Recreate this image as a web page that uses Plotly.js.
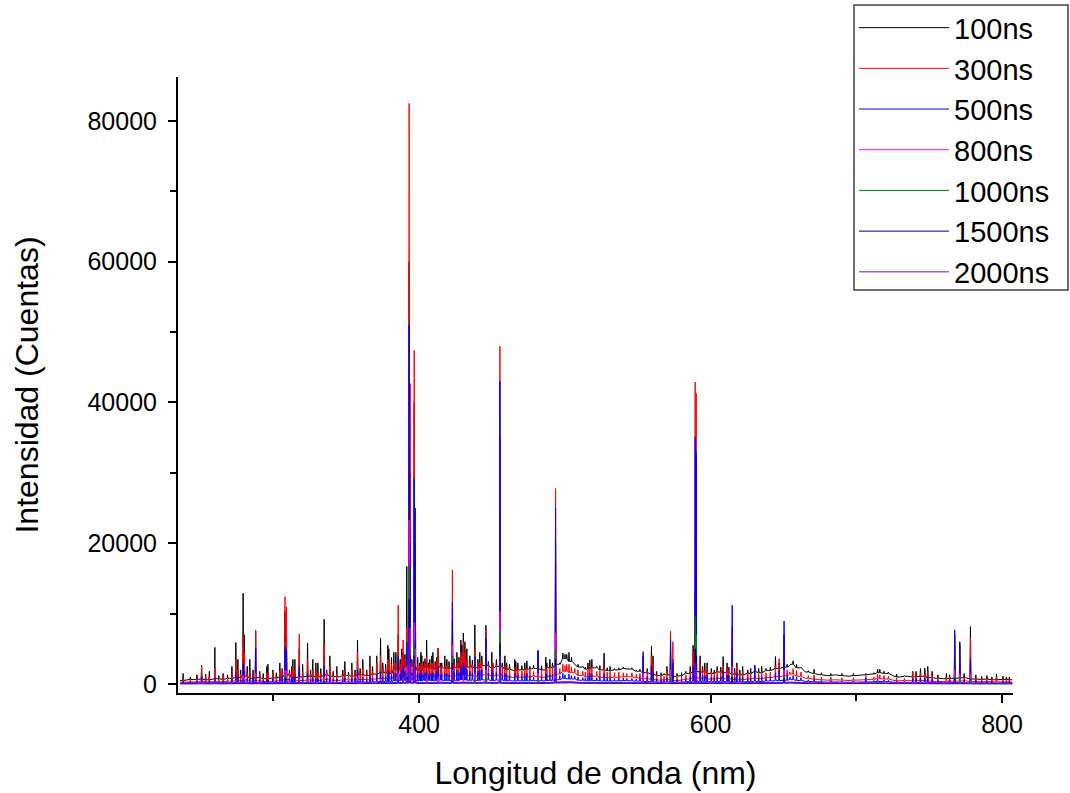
<!DOCTYPE html>
<html>
<head>
<meta charset="utf-8">
<script src="https://cdn.plot.ly/plotly-3.0.1.min.js"></script>
<style>
  html, body { margin: 0; padding: 0; background: #ffffff; }
  #chart { width: 1070px; height: 793px; }
</style>
</head>
<body>
<div id="chart"></div>
<script>
// ---- Series names and colours ----
const seriesNames = ["100ns", "300ns", "500ns", "800ns", "1000ns", "1500ns", "2000ns"];
const seriesColors = ["#000000", "#ff0000", "#0000ff", "#ff00ff", "#008000", "#000080", "#8000ff"];

// ---- Continuum (background) wavelength grid, nm ----
const contNm = [236,245,250,255,260,265,270,275,280,285,
  290,295,300,305,310,315,320,325,330,335,
  340,345,350,355,360,365,370,375,380,385,
  390,395,400,405,410,415,420,425,430,435,
  440,445,450,455,460,465,470,475,480,485,
  490,495,500,505,510,515,520,525,530,535,
  540,545,550,555,560,565,570,575,580,585,
  590,595,600,605,610,615,620,625,630,635,
  640,645,650,655,660,665,670,675,680,685,
  690,695,700,705,710,715,720,725,730,735,
  740,745,750,755,760,765,770,775,780,785,
  790,795,800,807];

// ---- Continuum intensity per series (counts) ----
const cont100 = [500,650,700,600,750,650,800,900,1100,800,
  900,750,850,1000,1300,900,1000,1100,1000,1300,
  1100,1000,1200,1100,1300,1200,1400,1600,1500,2000,
  2300,2500,1900,2300,2100,2400,2200,2300,2600,2400,
  2300,2600,2200,2500,2100,1900,2000,2100,2200,2000,
  2300,2800,3600,3200,2400,2100,2300,2000,1900,2000,
  2200,2100,1800,1600,1400,1200,1300,1100,1200,1500,
  1800,1700,1500,1700,1600,1400,1300,1500,1800,1600,
  1900,2200,2400,2800,2300,1700,1500,1300,1200,1300,
  1200,1100,1200,1300,1400,1600,1500,1200,1000,1100,
  1000,1100,900,800,750,800,850,900,700,650,
  700,600,650,600];
const cont300 = [250,300,350,300,350,300,400,450,550,400,
  450,350,400,500,650,450,500,550,500,650,
  550,500,600,550,650,600,700,800,750,1000,
  1200,1300,950,1150,1000,1200,1100,1150,1300,1200,
  1100,1300,1100,1250,1000,900,950,1000,1100,950,
  1100,1400,1800,1600,1200,1000,1100,950,900,950,
  1050,1000,850,750,650,550,600,500,550,700,
  900,800,700,800,750,650,600,700,850,750,
  900,1050,1150,1400,1100,800,700,600,550,600,
  550,500,550,600,650,750,700,550,450,500,
  450,500,400,350,350,400,400,450,350,300,
  350,300,300,280];
const cont500 = [120,150,160,140,170,150,180,200,250,180,
  200,170,190,220,290,200,220,240,220,290,
  240,220,260,240,290,260,310,350,330,440,
  500,550,420,500,460,530,480,500,570,530,
  500,570,480,550,460,420,440,460,480,440,
  500,620,790,700,530,460,500,440,420,440,
  480,460,400,350,310,260,290,240,260,330,
  400,370,330,370,350,310,290,330,400,350,
  420,480,530,620,500,370,330,290,260,290,
  260,240,260,290,310,350,330,260,220,240,
  220,240,200,180,170,180,190,200,150,140,
  150,130,140,130];
const cont800 = [60,70,80,70,80,70,90,100,120,90,
  100,80,90,110,140,100,110,120,110,140,
  120,110,130,120,140,130,150,170,160,210,
  240,260,200,240,220,250,230,240,270,250,
  240,270,230,260,220,200,210,220,230,210,
  240,290,370,330,250,220,240,210,200,210,
  230,220,190,170,150,130,140,120,130,160,
  190,180,160,180,170,150,140,160,190,170,
  200,230,250,290,240,180,160,140,130,140,
  130,120,130,140,150,170,160,130,110,120,
  110,120,100,90,80,90,90,100,80,70,
  80,70,70,65];
const cont1000 = [40,50,55,45,55,50,60,70,80,60,
  65,55,60,75,95,65,70,80,70,95,
  80,70,85,80,95,85,100,115,110,140,
  160,175,135,160,150,170,155,160,180,170,
  160,180,155,175,150,135,140,150,155,140,
  160,195,250,225,170,150,160,140,135,140,
  155,150,125,115,100,85,95,80,85,105,
  125,120,105,120,115,100,95,105,125,115,
  135,155,170,195,160,120,105,95,85,95,
  85,80,85,95,100,115,105,85,70,80,
  70,80,65,60,55,60,60,65,50,45,
  50,45,45,40];
const cont1500 = [30,35,40,30,40,35,40,50,55,40,
  45,40,45,50,65,45,50,55,50,65,
  55,50,60,55,65,60,70,80,75,100,
  115,125,95,115,105,120,110,115,130,120,
  115,130,110,125,105,95,100,105,110,100,
  115,140,180,160,120,105,115,100,95,100,
  110,105,90,80,70,60,65,55,60,75,
  90,85,75,85,80,70,65,75,90,80,
  95,110,120,140,115,85,75,65,60,65,
  60,55,60,65,70,80,75,60,50,55,
  50,55,45,40,40,40,45,45,35,35,
  35,30,30,30];
const cont2000 = [80,150,60,140,90,160,70,150,100,170,
  90,160,80,170,110,180,90,170,100,190,
  110,180,100,190,120,200,110,210,130,230,
  150,250,140,240,160,250,150,260,170,250,
  150,240,140,250,150,230,130,240,140,230,
  150,240,170,260,150,230,140,220,130,220,
  130,210,120,200,110,190,100,180,110,190,
  120,200,110,190,120,180,100,190,120,190,
  130,210,140,220,130,190,110,180,100,170,
  90,170,100,160,110,170,100,160,90,150,
  80,150,70,140,80,130,70,140,60,130,
  60,120,60,110];

// ---- Main emission lines (nm) and peak heights per series (0 = no visible line) ----
const lineNm = [250.7,259.8,274.2,279.2,280.0,283.8,287.8,296.2,307.9,308.9,
  313.3,317.7,323.4,329.1,334.8,338.7,349.0,357.7,366.2,373.5,
  379.2,382.6,385.6,389.0,391.5,393.1,393.8,396.6,397.3,401.2,
  405.1,408.7,413.0,417.6,422.8,425.9,428.6,430.3,432.7,438.2,
  441.6,445.8,449.9,455.4,458.8,466.3,473.9,481.6,486.9,493.6,
  498.6,501.3,517.1,526.9,553.7,559.4,572.5,574.1,589.4,590.1,
  596.0,608.6,614.8,618.0,630.3,644.5,647.0,650.4,656.6,716.1,
  738.7,747.0,761.8,767.5,771.0,778.3,796.2];
const peak100 = [2700,5200,5900,12900,7000,3500,7600,2800,10300,9000,
  3500,5000,5800,3000,9200,4000,3200,6250,4000,6500,
  5000,4500,7000,4500,16700,60000,30000,40000,20000,4500,
  6250,4000,5100,4000,9000,4500,6250,7250,5000,8400,
  4500,8350,4500,35000,4000,3200,3300,4700,3800,20000,
  4400,4200,3400,4400,4000,5400,5000,3500,13100,12000,
  3000,3900,5000,3000,2500,3900,3000,7000,3300,2100,
  1800,2230,1500,7000,6000,8150,1400];
const peak300 = [2400,2200,3400,7000,4500,2000,7500,1500,12400,11000,
  2500,7100,3500,1800,5800,2500,2000,4500,2500,4000,
  3500,3000,11200,6250,8000,82500,42700,47400,20000,3000,
  4000,3000,5100,2500,16200,3000,4500,6000,3500,5000,
  3000,7700,3000,48000,2500,2000,2200,3500,2500,27800,
  2800,2800,2500,2500,3500,4000,7500,6000,42900,41300,
  2000,2500,8150,2500,2000,2500,3600,4800,2200,1300,
  1800,1500,1000,6000,4000,6500,1000];
const peak500 = [1000,900,1500,2900,1800,800,5100,600,5300,4800,
  1000,2500,1500,800,2500,1200,900,2000,1100,1800,
  1800,1600,4000,2500,6000,51000,20000,29200,25000,2000,
  2000,1500,2500,1500,11600,2000,2500,3000,2000,3900,
  2000,6500,2000,43000,1500,0,1500,4800,1500,25000,
  1500,0,1500,1500,4600,2500,6250,3000,35100,33000,
  1200,1800,11200,1500,2700,1500,2000,8950,1200,0,
  800,900,0,7700,5500,3500,0];
const peak800 = [400,350,600,1200,800,0,1500,0,2000,1800,
  0,900,600,0,1000,0,0,800,0,700,
  0,0,1500,900,2500,23300,8000,8700,5000,0,
  800,0,900,0,5500,0,0,1200,0,1500,
  0,2000,0,10300,0,0,0,1500,0,7200,
  0,0,0,0,1500,0,2000,0,6000,4000,
  0,0,2500,0,0,0,0,2000,0,0,
  0,0,0,2000,1500,1500,0];
const peak1000 = [250,200,350,700,500,0,900,0,1200,1000,
  0,500,400,0,600,0,0,500,0,450,
  0,0,900,600,1500,16700,5000,6000,3000,0,
  0,0,0,0,4000,0,0,0,0,900,
  0,1200,0,7400,0,0,0,800,0,4800,
  0,0,0,0,0,0,1200,0,9600,7000,
  0,0,1500,0,0,0,0,1200,0,0,
  0,0,0,1200,900,800,0];
const peak1500 = [180,150,250,500,350,0,600,0,800,700,
  0,400,300,0,400,0,0,350,0,300,
  0,0,600,400,1000,12000,4000,4000,2500,0,
  0,0,0,0,3000,0,0,0,0,0,
  0,0,0,5800,0,0,0,0,0,3500,
  0,0,0,0,0,0,0,0,5000,4000,
  0,0,1000,0,0,0,0,800,0,0,
  0,0,0,800,0,0,0];
const peak2000 = [300,250,300,500,400,0,500,0,600,500,
  0,350,300,0,350,0,0,350,0,350,
  0,0,500,400,700,8000,3000,3000,2000,0,
  0,0,0,0,2000,0,0,0,0,0,
  0,0,0,4000,0,0,0,0,0,2500,
  0,0,0,0,0,0,0,0,3000,2000,
  0,0,0,0,0,0,0,0,0,0,
  0,0,0,500,0,0,0];

// ---- Weak lines (nm) seen in the early series (100, 300, 500 ns) ----
const minorNm = [238.0,243.0,247.5,253.5,256.0,262.5,265.5,268.5,271.5,275.6,
  277.5,282.0,286.0,290.6,293.0,295.5,299.6,302.0,304.4,306.0,
  311.0,312.6,314.7,320.0,325.5,327.0,330.5,332.5,336.5,341.0,
  343.5,347.6,351.5,353.8,356.0,359.5,361.3,364.0,368.0,370.9,
  375.0,377.0,378.5,381.0,384.0,387.0,388.0,390.2,395.0,399.0,
  400.3,401.8,403.0,404.0,406.3,407.3,409.4,411.0,412.0,414.5,
  415.5,419.0,420.5,424.0,427.3,429.3,431.4,434.8,436.5,440.3,
  443.0,447.5,450.6,453.0,457.0,460.0,462.0,465.6,467.7,470.5,
  472.5,476.0,478.5,484.0,487.6,489.7,491.5,496.5,500.0,502.8,
  504.5,506.8,509.0,512.3,514.0,515.8,518.5,521.9,524.0,529.0,
  531.0,534.0,537.0,540.0,542.5,546.0,549.0,551.5,556.5,560.5,
  563.0,566.0,568.0,570.0,577.0,580.0,583.0,586.0,588.0,592.8,
  594.5,597.6,600.5,602.5,604.5,607.0,611.3,612.5,616.5,620.0,
  622.0,625.5,627.5,633.0,635.0,638.0,641.0,652.5,654.4,659.0,
  662.0,667.0,671.0,676.0,682.5,690.0,698.0,706.5,712.0,714.6,
  719.0,722.0,727.6,733.0,741.0,744.0,749.0,752.0,756.0,764.0,
  774.0,782.0,786.0,789.6,793.0,800.6,803.0,805.0];
const minor100 = [1500,1000,1300,1400,1800,1200,1500,1300,2500,3500,
  2000,2500,2000,1800,1500,2500,2000,1600,3000,2200,
  2000,2500,3500,2800,2000,3500,3000,2200,2000,1800,
  2500,2000,1700,3000,2000,2200,3500,2000,2500,4000,
  3000,2800,5500,3800,4500,3500,5000,4200,3500,3800,
  3000,4000,3200,3600,3000,3500,4500,3200,3800,3000,
  3000,3500,3200,3600,3800,5500,6000,4000,3400,3500,
  4000,3200,3000,3500,3000,3000,2800,3500,3000,2600,
  3000,2500,2700,2600,3000,3500,3000,3000,4200,4500,
  3800,3000,2800,2500,2400,3000,3500,2500,2600,2300,
  2500,2200,2300,2400,2000,2300,2000,2100,2200,4000,
  1800,1600,1500,2500,1500,1600,1800,2500,5500,4000,
  2500,3000,2200,2000,2500,2400,3000,2400,2200,2000,
  2500,2000,2200,2200,2500,2200,2400,2800,2200,2800,
  2400,1900,2100,1600,1500,1500,1500,1500,1600,2100,
  1800,1700,1400,1200,1800,2200,2500,1800,1300,1300,
  1500,1300,1100,1200,1000,1100,1000,1000];
const minor300 = [900,700,800,1100,1000,800,1200,700,1500,2000,
  1400,1600,1300,1400,900,1500,1600,1000,1800,2000,
  1500,1700,2000,1800,1400,2000,1600,1500,1800,1200,
  1500,1300,1100,2000,1600,1500,2200,1500,1800,3000,
  2000,2200,3500,2800,3000,2800,4000,3500,3000,2800,
  2600,2800,2500,3000,2500,2800,3000,2600,3200,2400,
  2500,2700,2500,2800,3000,4000,4500,3000,2800,3000,
  3200,2500,2600,2700,2400,2200,2000,2400,2200,1900,
  2100,2000,1800,2000,2100,2400,2500,2200,2600,2800,
  2400,2200,2000,1800,1700,2000,2400,1800,1900,1700,
  1800,1600,1700,1600,1500,1600,1400,1500,1800,3000,
  1300,1200,1100,1800,1000,1100,1300,1800,4500,3000,
  2000,2200,1700,1600,1900,1800,2200,2000,1800,1500,
  1800,1500,1500,1500,1700,1600,1700,2000,1700,1900,
  1700,1200,1300,1000,1000,900,900,1200,1000,1400,
  1200,1100,900,800,1400,1600,1800,1300,900,1000,
  1000,900,800,800,700,700,650,700];
const minor500 = [400,300,350,400,500,300,450,350,700,900,
  600,700,900,600,500,700,800,500,900,1100,
  800,900,1000,800,600,900,800,700,800,600,
  700,600,500,900,800,700,1000,700,800,1400,
  1000,1100,1600,1300,1500,1400,2000,1800,1600,1600,
  1400,1500,1300,1600,1300,1500,1600,1400,1800,1300,
  1400,1500,1300,1700,1600,2200,2500,1800,1600,1800,
  2000,1500,1500,1600,1400,1300,1200,1400,1300,1100,
  1200,1100,1000,1100,1200,1300,1400,1200,1300,1400,
  1200,1100,1000,900,900,1100,1300,900,1000,900,
  900,800,900,900,800,800,700,900,1000,1500,
  700,600,600,900,600,600,700,1000,2500,1800,
  1200,1300,900,900,1000,1000,1300,1200,1000,900,
  1000,800,900,900,1000,900,1000,1200,1000,1000,
  900,600,700,500,500,450,450,800,500,700,
  600,550,450,400,800,900,1000,700,500,600,
  600,500,400,400,350,350,300,350];

const contAll = [cont100, cont300, cont500, cont800, cont1000, cont1500, cont2000];
const peakAll = [peak100, peak300, peak500, peak800, peak1000, peak1500, peak2000];
const minorAll = [minor100, minor300, minor500, null, null, null, null];

function nearestIndex(p) {
  let k = 0;
  for (let i = 1; i < contNm.length; i++) {
    if (Math.abs(contNm[i] - p) < Math.abs(contNm[k] - p)) k = i;
  }
  return k;
}

// Merge continuum samples and line apexes of one series, in wavelength order.
function buildSeries(cont, peaks, minors) {
  const pts = contNm.map((x, i) => [x, cont[i]]);
  const addLines = (nms, hs) => {
    const n = Math.min(nms.length, hs.length);
    for (let j = 0; j < n; j++) {
      const p = nms[j], h = hs[j];
      if (!h) continue;
      const base = cont[nearestIndex(p)];
      if (h <= base) continue;
      pts.push([p - 0.3, base], [p, h], [p + 0.3, base]);
    }
  };
  addLines(lineNm, peaks);
  if (minors) addLines(minorNm, minors);
  pts.sort((a, b) => a[0] - b[0]);
  return { x: pts.map(d => d[0]), y: pts.map(d => d[1]) };
}

const traces = seriesNames.map((name, s) => {
  const d = buildSeries(contAll[s], peakAll[s], minorAll[s]);
  return {
    type: "scatter",
    mode: "lines",
    name: name,
    x: d.x,
    y: d.y,
    line: { color: seriesColors[s], width: 1, simplify: false },
    hoverinfo: "skip"
  };
});

const FONT = "Liberation Sans, Arial, sans-serif";

const layout = {
  width: 1070,
  height: 793,
  paper_bgcolor: "#ffffff",
  plot_bgcolor: "#ffffff",
  margin: { l: 178, r: 57, t: 77, b: 100, autoexpand: false },
  showlegend: true,
  font: { family: FONT, color: "#000000" },
  xaxis: {
    range: [234.5, 807.5],
    tick0: 0, dtick: 200,
    ticks: "outside", ticklen: 8, tickwidth: 2, tickcolor: "#000000",
    minor: { dtick: 100, ticks: "outside", ticklen: 6, tickwidth: 2, tickcolor: "#000000" },
    showline: true, linewidth: 2, linecolor: "#000000", mirror: false,
    showgrid: false, zeroline: false,
    tickfont: { family: FONT, size: 25, color: "#000000" },
    title: { text: "Longitud de onda (nm)", font: { family: FONT, size: 32, color: "#000000" }, standoff: 25 }
  },
  yaxis: {
    range: [-1280, 86250],
    tick0: 0, dtick: 20000,
    tickformat: "d",
    ticks: "outside", ticklen: 8, tickwidth: 2, tickcolor: "#000000",
    minor: { dtick: 10000, ticks: "outside", ticklen: 6, tickwidth: 2, tickcolor: "#000000" },
    showline: true, linewidth: 2, linecolor: "#000000", mirror: false,
    showgrid: false, zeroline: false,
    ticklabelstandoff: 6,
    tickfont: { family: FONT, size: 25, color: "#000000" },
    title: { text: "Intensidad (Cuentas)", font: { family: FONT, size: 32, color: "#000000" }, standoff: 39 }
  },
  // legend frame
  shapes: [{
    type: "rect", xref: "paper", yref: "paper", layer: "above",
    x0: 0.8096, x1: 1.0659, y0: 0.6542, y1: 1.1169,
    line: { color: "#404040", width: 1.5 },
    fillcolor: "#ffffff"
  }],
  legend: {
    x: 0.8096, y: 1.1213, xanchor: "left", yanchor: "top",
    bgcolor: "rgba(0,0,0,0)", borderwidth: 0,
    font: { family: FONT, size: 29, color: "#000000" },
    itemwidth: 90,
    tracegroupgap: 0
  }
};

Plotly.newPlot("chart", traces, layout, { displayModeBar: false, staticPlot: true });
</script>
</body>
</html>
